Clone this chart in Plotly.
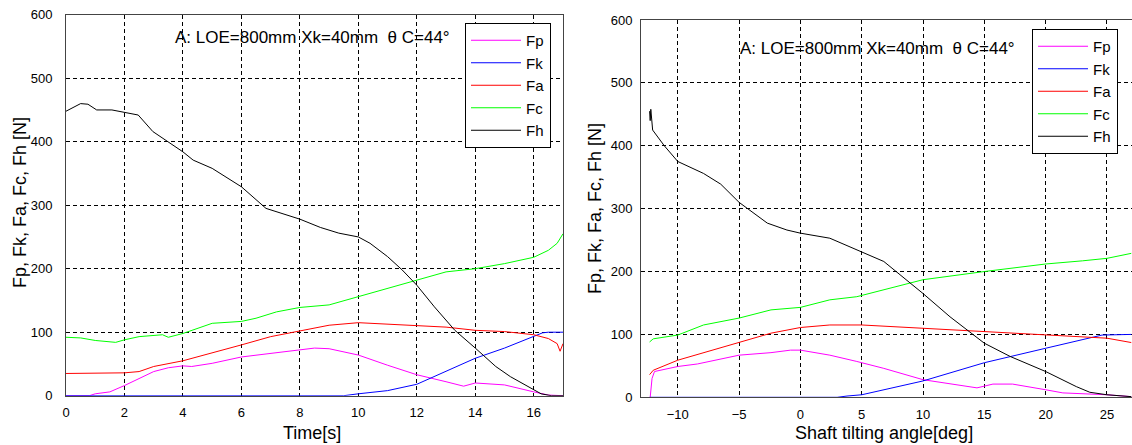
import plotly.graph_objects as go

# ---------------- data: left panel (time) ----------------
t_fp = [0, 0.8, 1, 1.5, 2, 2.5, 3, 3.5, 4, 4.3, 5, 6, 7, 8, 8.5, 9, 10, 11, 12, 13, 13.6, 14, 15, 16, 16.5, 17]
v_fp = [0, 0, 3, 6, 16, 27, 38, 44, 47, 46, 51, 61, 67, 72, 75, 74, 64, 48, 33, 22, 15, 20, 17, 6, 1, 0]
t_fk = [0, 9.5, 10, 11, 12, 13, 14, 15, 16, 16.3, 16.5, 17]
v_fk = [0, 0, 3, 8, 18, 38, 59, 75, 93, 99, 100, 100]
t_fa = [0, 2, 2.5, 3, 4, 5, 6, 7, 8, 9, 10, 11, 12, 13, 14, 15, 16, 16.5, 16.8, 16.9, 17]
v_fa = [35, 36, 38, 46, 55, 67, 80, 93, 102, 111, 115, 113, 110, 108, 103, 101, 96, 90, 82, 70, 82]
t_fc = [0, 0.5, 1, 1.7, 2, 2.5, 3.3, 3.5, 4, 4.3, 5, 6, 6.5, 7.2, 8, 9, 10, 11, 12, 13, 14, 15, 16, 16.5, 16.8, 17]
v_fc = [92, 91, 87, 84, 88, 93, 96, 92, 98, 103, 114, 117, 122, 132, 139, 143, 156, 169, 183, 195, 200, 208, 218, 229, 240, 255]
t_fh = [0, 0.3, 0.5, 0.75, 1.05, 1.57, 2, 2.47, 2.97, 3.48, 4, 4.35, 5, 6, 6.84, 8, 8.7, 9.33, 10, 10.4, 11, 11.5, 12,
        12.6, 13.3, 14, 14.7, 15.2, 16, 16.25, 16.6, 17]
v_fh = [448, 455, 460, 459, 450, 450, 446, 442, 416, 400, 384, 371, 358, 329, 295, 278, 265, 256, 250, 240, 219, 198, 174,
        140, 103, 75, 46, 30, 9, 3, 0, 0]

# ---------------- data: right panel (shaft tilting angle) ----------------
a_fp = [-12.25, -12.1, -11.9, -10, -8.4, -5, -2.4, -0.8, 0, 2.4, 4.6, 6.8, 10, 12.2, 14.4, 15.7, 17.3, 20, 21.4, 25, 27]
w_fp = [0, 30, 41, 49, 53, 67, 71, 75, 75, 67, 57, 46, 28, 22, 15, 21, 21, 12, 7, 4, 1]
a_fk = [-12.3, 3, 3.8, 5, 10, 15, 20, 23, 24.6, 27]
w_fk = [0, 0, 2, 4, 26, 55, 78, 92, 99, 100]
a_fa = [-12.3, -12, -10, -5, -2.4, 0, 2.4, 5, 10, 15, 20, 25, 27]
w_fa = [36, 43, 59, 88, 102, 111, 115, 115, 110, 105, 99, 94, 87]
a_fc = [-12.3, -12, -10, -7.9, -5, -2.4, 0, 2.4, 4.6, 10, 15, 20, 23, 25, 27]
w_fc = [88, 93, 99, 115, 126, 139, 143, 155, 160, 187, 200, 212, 217, 221, 229]
a_fh = [-12.3, -12.25, -12.2, -12.15, -12.05, -11.1, -10, -7.9, -6.5, -5, -2.7, -1.1, 0, 2.4, 4.6, 6.8, 10, 12.2, 15,
        17.1, 20, 22.5, 23.6, 25, 27]
w_fh = [455, 440, 458, 445, 425, 400, 375, 356, 339, 310, 277, 266, 261, 253, 234, 216, 165, 128, 86, 65, 41, 17, 8, 4, 1]

names = ["Fp", "Fk", "Fa", "Fc", "Fh"]
colors = ["#ff00ff", "#0000ff", "#ff0000", "#00ff00", "#000000"]
left_series = [(t_fp, v_fp), (t_fk, v_fk), (t_fa, v_fa), (t_fc, v_fc), (t_fh, v_fh)]
right_series = [(a_fp, w_fp), (a_fk, w_fk), (a_fa, w_fa), (a_fc, w_fc), (a_fh, w_fh)]
note_text = "A: LOE=800mm Xk=40mm\u00a0\u00a0\u03b8\u00a0C=44\u00b0"
y_title = "Fp, Fk, Fa, Fc, Fh [N]"

W, H = 1132, 445
fig = go.Figure()
for (x, y), n, c in zip(left_series, names, colors):
    fig.add_trace(go.Scatter(x=x, y=y, name=n, mode="lines", line=dict(color=c, width=1),
                             xaxis="x", yaxis="y", legend="legend"))
for (x, y), n, c in zip(right_series, names, colors):
    fig.add_trace(go.Scatter(x=x, y=y, name=n, mode="lines", line=dict(color=c, width=1),
                             xaxis="x2", yaxis="y2", legend="legend2"))

tickfont = dict(family="Liberation Sans Narrow, Arial Narrow, sans-serif", size=13, color="#000")
axis_common = dict(showline=True, linecolor="#444", linewidth=1, mirror=True, showgrid=True,
                   gridcolor="#000", gridwidth=1, griddash="4px,3px", zeroline=False, ticks="",
                   tickfont=tickfont, automargin=False)


def px_x(p):
    return p / W


def px_y(p):
    return 1 - p / H


legfont = dict(family="Liberation Sans, Arial, sans-serif", size=15, color="#000")
fig.update_layout(
    width=W, height=H, margin=dict(l=0, r=0, t=0, b=0), autosize=False,
    paper_bgcolor="white", plot_bgcolor="white",
    xaxis=dict(domain=[px_x(66), px_x(563)], range=[0, 17], dtick=2, anchor="y",
               ticklabelstandoff=5, **axis_common),
    yaxis=dict(domain=[px_y(395.7), px_y(14.7)], range=[0, 600], dtick=100, anchor="x",
               ticklabelstandoff=10, **axis_common),
    xaxis2=dict(domain=[px_x(641), px_x(1131.5)], range=[-13, 27], dtick=5, anchor="y2",
                ticklabelstandoff=5, **axis_common),
    yaxis2=dict(domain=[px_y(397.3), px_y(20)], range=[0, 600], dtick=100, anchor="x2",
                ticklabelstandoff=5, **axis_common),
    legend=dict(x=px_x(465), y=px_y(23), xanchor="left", yanchor="top", bgcolor="white",
                bordercolor="#000", borderwidth=1, font=legfont, itemwidth=50, tracegroupgap=0),
    legend2=dict(x=px_x(1032), y=px_y(29), xanchor="left", yanchor="top", bgcolor="white",
                 bordercolor="#000", borderwidth=1, font=legfont, itemwidth=50, tracegroupgap=0),
)

txtfont = dict(family="Liberation Sans, Arial, sans-serif", size=17, color="#000")
titlefont = dict(family="Liberation Sans, Arial, sans-serif", size=18, color="#000")
ann = [
    dict(text=note_text, x=px_x(173), y=px_y(37), xanchor="left", yanchor="middle", font=txtfont),
    dict(text=note_text, x=px_x(738), y=px_y(49), xanchor="left", yanchor="middle", font=txtfont),
    dict(text=y_title, x=px_x(20), y=px_y(203), textangle=-90, xanchor="center", yanchor="middle", font=titlefont),
    dict(text=y_title, x=px_x(595), y=px_y(209), textangle=-90, xanchor="center", yanchor="middle", font=titlefont),
    dict(text="Time[s]", x=px_x(312), y=px_y(433), xanchor="center", yanchor="middle", font=titlefont),
    dict(text="Shaft tilting angle[deg]", x=px_x(884), y=px_y(433), xanchor="center", yanchor="middle",
         font=titlefont),
]
for a in ann:
    a.update(xref="paper", yref="paper", showarrow=False)
fig.update_layout(annotations=ann)

fig.write_html("out.html")
